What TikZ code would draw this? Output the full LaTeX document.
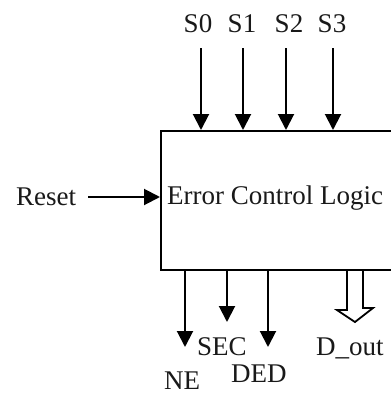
\documentclass[tikz,border=0pt]{standalone}
\usepackage{fontspec}
\setmainfont{Liberation Serif}
\usetikzlibrary{arrows.meta}
\tikzset{
  lbl/.style={font=\fontsize{27}{31}\selectfont, inner sep=0pt, text=black!90},
  arr/.style={line width=2pt, -{Triangle[width=16pt,length=16pt]}},
  blockbox/.style={draw, line width=2pt, inner sep=0pt},
  hollow/.style={line width=1.8pt, line join=miter}
}
\begin{document}
\begin{tikzpicture}[x=1pt,y=-1pt]
\useasboundingbox (0,0) rectangle (391,394);
\clip (0,0) rectangle (391,394);
\fill[white] (0,0) rectangle (391,394);
% main block (extends beyond the right edge)
\node[blockbox, anchor=north west, minimum width=280pt, minimum height=139pt] (box) at (160,130) {};
\node[lbl, anchor=base west] (title) at (167,204) {Error Control Logic};
% top inputs
\node[lbl, anchor=base] (s0) at (198,32) {S0};
\node[lbl, anchor=base] (s1) at (242,32) {S1};
\node[lbl, anchor=base] (s2) at (289,32) {S2};
\node[lbl, anchor=base] (s3) at (332,32) {S3};
\coordinate (s0a) at (201,48);
\coordinate (s1a) at (243,48);
\coordinate (s2a) at (286,48);
\coordinate (s3a) at (333,48);
\draw[arr] (s0a) -- (s0a |- box.north);
\draw[arr] (s1a) -- (s1a |- box.north);
\draw[arr] (s2a) -- (s2a |- box.north);
\draw[arr] (s3a) -- (s3a |- box.north);
% reset
\node[lbl, anchor=base west] (reset) at (16,205) {Reset};
\coordinate (reseta) at (88,197);
\draw[arr] (reseta) -- (reseta -| box.west);
% bottom outputs
\coordinate (nea) at (185,347);
\coordinate (seca) at (227,322);
\coordinate (deda) at (268,347);
\coordinate (douta) at (355,322);
\draw[arr] (nea |- box.south) -- (nea);
\draw[arr] (seca |- box.south) -- (seca);
\draw[arr] (deda |- box.south) -- (deda);
\draw[hollow] ([xshift=-8pt]douta |- box.south) -- ++(0,39) -- ++(-10,0) -- (douta)
  -- ++(18,-14) -- ++(-10,0) -- ([xshift=8pt]douta |- box.south);
\node[lbl, anchor=base west] (sec) at (197,355) {SEC};
\node[lbl, anchor=base west] (ne) at (164,389) {NE};
\node[lbl, anchor=base west] (ded) at (231,382) {DED};
\node[lbl, anchor=base west] (dout) at (316,355) {D\_out};
\end{tikzpicture}
\end{document}
